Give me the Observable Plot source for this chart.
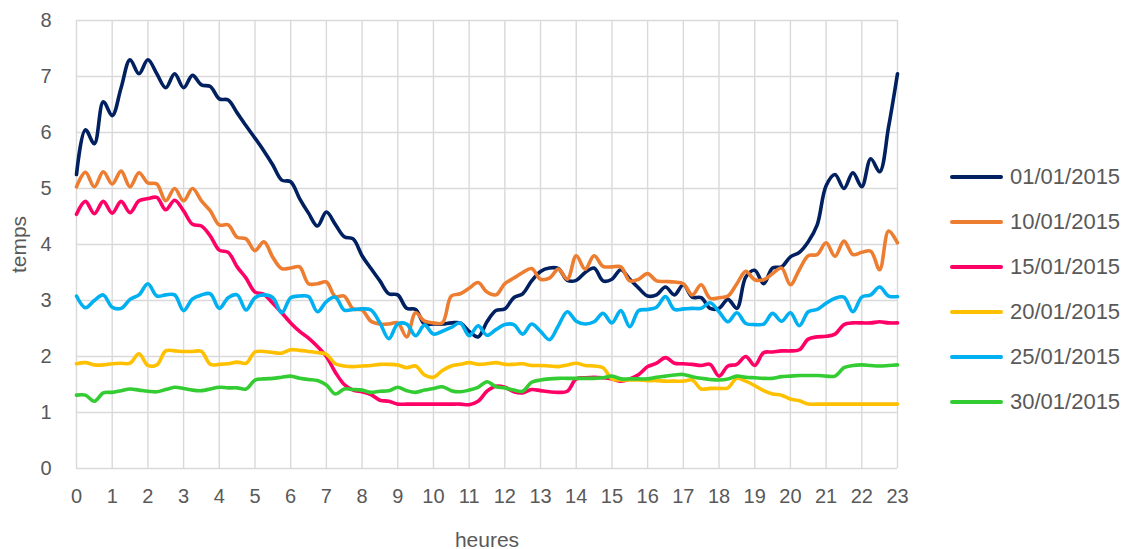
<!DOCTYPE html>
<html>
<head>
<meta charset="utf-8">
<script src="https://cdn.jsdelivr.net/npm/d3@7"></script>
<script src="https://cdn.jsdelivr.net/npm/@observablehq/plot@0.6"></script>
<style>
  html, body { margin: 0; padding: 0; background: #fff; }
  #wrap { position: relative; width: 1126px; height: 549px; }
  #legend { position: absolute; left: 950px; top: 154px; font-family: "Liberation Sans", Arial, sans-serif; font-size: 22px; color: #595959; }
  .row { display: flex; align-items: center; height: 45px; }
  .sw { width: 53px; height: 4px; border-radius: 2px; margin-right: 7px; }
  #chart svg [aria-label="x-axis label"] text, #chart svg [aria-label="y-axis label"] text { font-size: 21px; }
</style>
</head>
<body>
<div id="wrap"><div id="chart"></div><div id="legend"></div></div>
<script>
// Série names, colors
const seriesNames = ["01/01/2015", "10/01/2015", "15/01/2015", "20/01/2015", "25/01/2015", "30/01/2015"];
const seriesColors = ["#002060", "#ED7D31", "#FF0066", "#FFC000", "#00B0F0", "#33CC33"];
const xTicks = [0,1,2,3,4,5,6,7,8,9,10,11,12,13,14,15,16,17,18,19,20,21,22,23];
const yTicks = [0,1,2,3,4,5,6,7,8];

// values every quarter hour, 0 .. 23
const s0101 = [
  5.25, 6.05, 5.8, 6.55,
  6.3, 6.8, 7.3, 7.05,
  7.3, 7.05, 6.8, 7.05,
  6.8, 7.02, 6.85, 6.82,
  6.6, 6.58, 6.35, 6.12,
  5.9, 5.67, 5.42, 5.15,
  5.12, 4.82, 4.56, 4.33,
  4.58, 4.36, 4.14, 4.1,
  3.8, 3.57, 3.35, 3.12,
  3.1, 2.86, 2.84, 2.58,
  2.58, 2.58, 2.6, 2.6,
  2.45, 2.35, 2.62, 2.82,
  2.85, 3.05, 3.12, 3.35,
  3.52, 3.58, 3.57, 3.36,
  3.36, 3.5, 3.58, 3.35,
  3.38, 3.55, 3.38, 3.22,
  3.08, 3.1, 3.24, 3.1,
  3.28, 3.06, 3.05, 2.86,
  2.86, 3.02, 2.86, 3.42,
  3.54, 3.3, 3.58, 3.6,
  3.78, 3.86, 4.05, 4.35,
  5.05, 5.25, 5.0, 5.28,
  5.03, 5.53, 5.3, 6.1,
  7.05];
const s1001 = [
  5.03, 5.29, 5.03, 5.3,
  5.08, 5.31, 5.03, 5.28,
  5.1, 5.08, 4.78, 5.0,
  4.78, 5.0, 4.78, 4.6,
  4.35, 4.35, 4.13, 4.1,
  3.89, 4.05, 3.77, 3.57,
  3.58, 3.6, 3.3, 3.3,
  3.33, 3.07, 3.08, 2.85,
  2.83, 2.63, 2.58, 2.58,
  2.6, 2.35, 2.78, 2.63,
  2.6, 2.6, 3.08, 3.12,
  3.22, 3.32, 3.15, 3.1,
  3.3, 3.4, 3.5, 3.57,
  3.38, 3.4, 3.56, 3.38,
  3.8, 3.56, 3.8, 3.61,
  3.6, 3.6, 3.35, 3.38,
  3.48, 3.35, 3.34, 3.33,
  3.3, 3.1, 3.28, 3.04,
  3.05, 3.08, 3.3, 3.52,
  3.37, 3.37, 3.48, 3.58,
  3.28, 3.55, 3.8, 3.82,
  4.03, 3.79, 4.06, 3.82,
  3.86, 3.88, 3.55, 4.24,
  4.03];
const s1501 = [
  4.54, 4.77, 4.55, 4.77,
  4.56, 4.77, 4.57, 4.78,
  4.82, 4.84, 4.62, 4.79,
  4.6, 4.36, 4.33, 4.15,
  3.9, 3.86, 3.6, 3.4,
  3.15, 3.11, 2.95, 2.78,
  2.6, 2.45, 2.33, 2.18,
  2.0, 1.72, 1.5, 1.4,
  1.37, 1.32, 1.22, 1.2,
  1.15, 1.15, 1.15, 1.15,
  1.15, 1.15, 1.15, 1.15,
  1.14, 1.2, 1.38, 1.47,
  1.45, 1.37, 1.35, 1.41,
  1.39, 1.37, 1.36, 1.38,
  1.6, 1.62, 1.63, 1.62,
  1.6, 1.56, 1.6, 1.68,
  1.82, 1.88, 1.98, 1.88,
  1.87, 1.86, 1.84, 1.86,
  1.65, 1.83, 1.86, 2.0,
  1.84, 2.07, 2.08, 2.1,
  2.1, 2.12, 2.31, 2.35,
  2.36, 2.4, 2.57, 2.6,
  2.6, 2.6, 2.62, 2.6,
  2.6];
const s2001 = [
  1.87, 1.89, 1.85, 1.85,
  1.87, 1.88, 1.88, 2.05,
  1.84, 1.85, 2.1, 2.1,
  2.09, 2.09, 2.09, 1.86,
  1.86, 1.87, 1.9, 1.88,
  2.08, 2.09, 2.07, 2.06,
  2.12, 2.11, 2.09, 2.07,
  2.04, 1.87, 1.83, 1.82,
  1.83, 1.84, 1.86, 1.86,
  1.85, 1.8, 1.83, 1.67,
  1.63, 1.75, 1.83, 1.86,
  1.89, 1.86, 1.87, 1.89,
  1.86, 1.86, 1.87, 1.84,
  1.84, 1.83, 1.82, 1.85,
  1.88, 1.84, 1.83, 1.8,
  1.6, 1.58, 1.58, 1.58,
  1.57, 1.57, 1.56, 1.56,
  1.56, 1.58, 1.42, 1.43,
  1.43, 1.44, 1.61, 1.56,
  1.48, 1.39, 1.33, 1.31,
  1.24, 1.21, 1.15, 1.15,
  1.15, 1.15, 1.15, 1.15,
  1.15, 1.15, 1.15, 1.15,
  1.15];
const s2501 = [
  3.08, 2.87, 3.0, 3.1,
  2.88, 2.86, 3.02, 3.1,
  3.3, 3.08, 3.1, 3.1,
  2.82, 3.03, 3.1, 3.12,
  2.86, 3.05, 3.1, 2.83,
  3.05, 3.1, 3.05, 2.78,
  3.05, 3.08, 3.07, 2.8,
  2.98, 3.06, 2.83, 2.84,
  2.85, 2.83, 2.6, 2.32,
  2.58, 2.58, 2.37, 2.56,
  2.4, 2.45, 2.52, 2.6,
  2.37, 2.55, 2.38, 2.48,
  2.57, 2.57, 2.4, 2.58,
  2.45, 2.3, 2.55, 2.8,
  2.63, 2.58, 2.62, 2.77,
  2.6, 2.82, 2.53, 2.82,
  2.84, 2.88, 3.07, 2.84,
  2.85, 2.86, 2.86, 2.96,
  2.8, 2.62, 2.78, 2.59,
  2.57, 2.58, 2.77, 2.63,
  2.78, 2.55, 2.8, 2.84,
  2.95, 3.04, 3.06, 2.8,
  3.06, 3.1, 3.24, 3.08,
  3.07];
const s3001 = [
  1.31, 1.31, 1.2, 1.35,
  1.36, 1.39, 1.42, 1.4,
  1.38, 1.37, 1.41, 1.45,
  1.43, 1.4, 1.39, 1.42,
  1.45, 1.44, 1.44, 1.42,
  1.58, 1.6, 1.61, 1.63,
  1.65, 1.61, 1.59, 1.57,
  1.49, 1.33, 1.42, 1.41,
  1.4, 1.36, 1.38, 1.39,
  1.45, 1.39, 1.36, 1.4,
  1.43, 1.46, 1.39, 1.37,
  1.4, 1.45, 1.55, 1.46,
  1.44, 1.4, 1.38, 1.54,
  1.58, 1.6, 1.61, 1.61,
  1.61, 1.61, 1.61, 1.62,
  1.65, 1.6, 1.6, 1.6,
  1.6, 1.63, 1.65, 1.67,
  1.68, 1.64, 1.61, 1.59,
  1.58, 1.6, 1.65, 1.63,
  1.62, 1.61, 1.61, 1.64,
  1.65, 1.66, 1.66, 1.66,
  1.65, 1.65, 1.8, 1.84,
  1.85, 1.84, 1.83, 1.84,
  1.85];

const seriesValues = [s0101, s1001, s1501, s2001, s2501, s3001];
const hours = d3.range(0, 23.001, 0.25);

const rows = [];
seriesValues.forEach((vals, k) => vals.forEach((v, i) => rows.push({h: hours[i], v, serie: seriesNames[k]})));

const chart = Plot.plot({
  width: 1126,
  height: 549,
  marginLeft: 76,
  marginRight: 229,
  marginTop: 20,
  marginBottom: 81,
  style: {fontFamily: "'Liberation Sans', Arial, sans-serif", fontSize: "20px", color: "#595959", background: "#fff"},
  x: {domain: [0, 23]},
  y: {domain: [0, 8]},
  color: {domain: seriesNames, range: seriesColors},
  marks: [
    Plot.gridX(xTicks, {stroke: "#d9d9d9", strokeOpacity: 1, strokeWidth: 1.4}),
    Plot.gridY(yTicks, {stroke: "#d9d9d9", strokeOpacity: 1, strokeWidth: 1.4}),
    Plot.axisX(xTicks, {tickSize: 0, tickPadding: 20, tickFormat: d => String(d), label: "heures", labelAnchor: "center", labelArrow: "none", fontSize: 20}),
    Plot.axisY(yTicks, {tickSize: 0, tickPadding: 25, tickFormat: d => String(d), label: "temps", labelAnchor: "center", labelArrow: "none", labelOffset: 65, fontSize: 20}),
    Plot.line(rows, {x: "h", y: "v", z: "serie", stroke: "serie", curve: "catmull-rom", strokeWidth: 3.6, strokeLinejoin: "round", strokeLinecap: "round"})
  ]
});
document.getElementById("chart").appendChild(chart);

const legend = document.getElementById("legend");
seriesNames.forEach((name, k) => {
  const row = document.createElement("div");
  row.className = "row";
  const sw = document.createElement("span");
  sw.className = "sw";
  sw.style.background = seriesColors[k];
  const tx = document.createElement("span");
  tx.textContent = name;
  row.appendChild(sw);
  row.appendChild(tx);
  legend.appendChild(row);
});
</script>
</body>
</html>
